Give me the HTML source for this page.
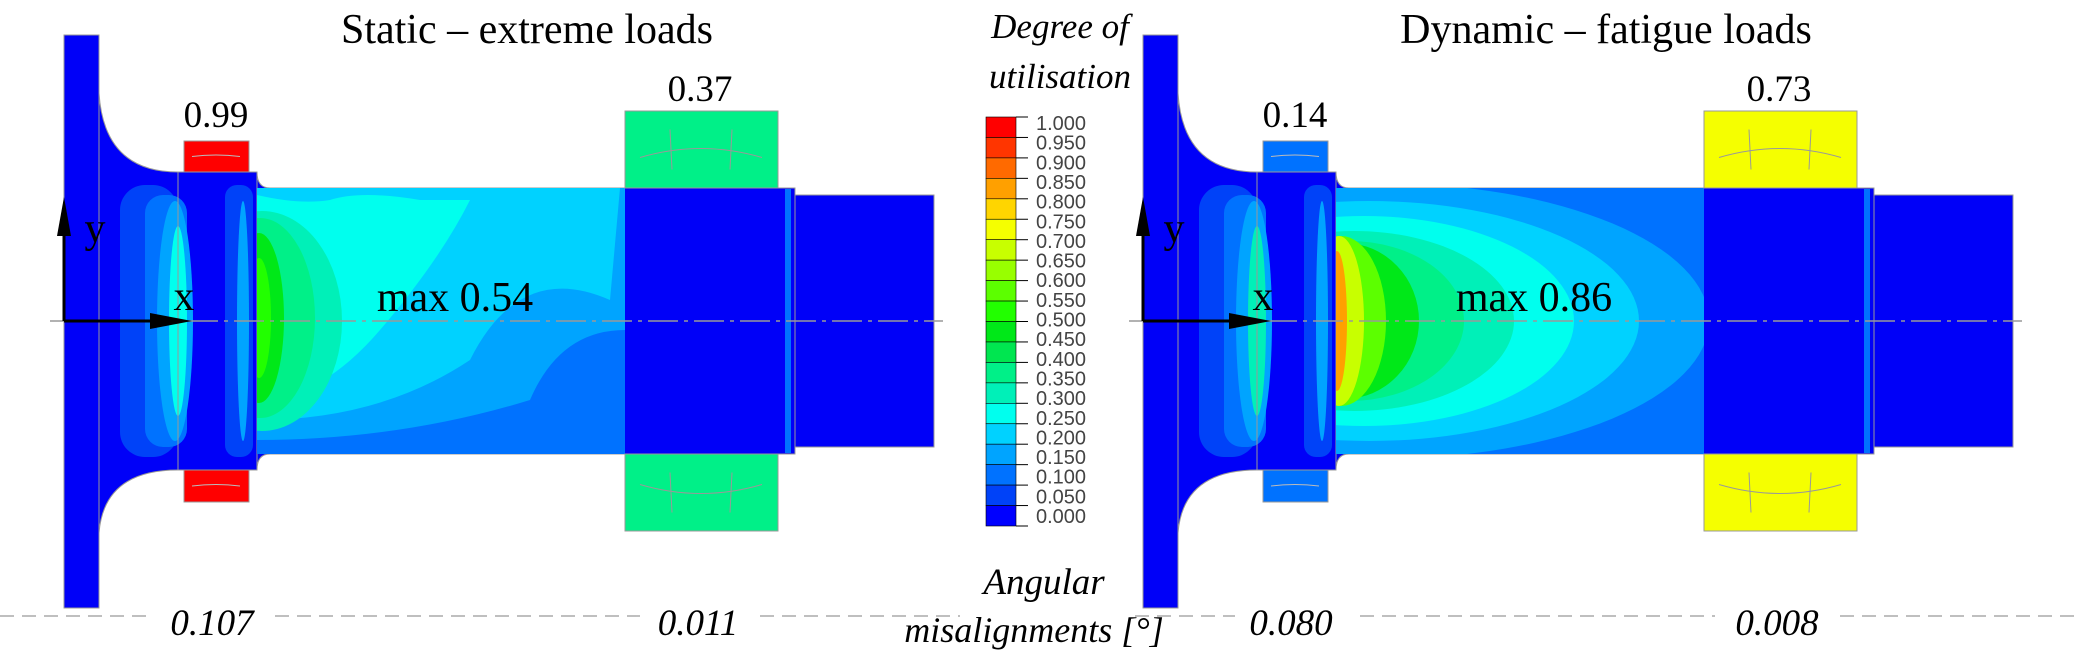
<!DOCTYPE html>
<html><head><meta charset="utf-8"><style>
body{margin:0;background:#fff;}
svg{display:block;font-family:"Liberation Serif",serif;}
</style></head><body>
<svg id="fig" width="2078" height="652" viewBox="0 0 2078 652">
<g id="panels"></g>
<g id="cbar"></g>
<text x="1060" y="38" font-size="35" font-style="italic" text-anchor="middle">Degree of</text>
<text x="1060" y="88" font-size="35" font-style="italic" text-anchor="middle">utilisation</text>
<text x="1044" y="594" font-size="37" font-style="italic" text-anchor="middle">Angular</text>
<text x="1034" y="642" font-size="36" font-style="italic" text-anchor="middle">misalignments [°]</text>
</svg>
<script>
const cbTicks=["1.000","0.950","0.900","0.850","0.800","0.750","0.700","0.650","0.600","0.550","0.500","0.450","0.400","0.350","0.300","0.250","0.200","0.150","0.100","0.050","0.000"];
const cbColors=["#ff0000","#ff3500","#ff6a00","#ffa000","#ffd500","#f5ff00","#c8ff00","#98ff00","#5cff00","#22ff00","#00e818","#00e650","#00f088","#00f0b8","#00ffee","#00d2ff","#00a4ff","#0072ff","#0042f8","#0000ff"];
const panelTitles=["Static – extreme loads","Dynamic – fatigue loads"];
const bearing1=[0.99,0.14];
const bearing2=[0.37,0.73];
const maxVals=["max 0.54","max 0.86"];
const misalign=[["0.107","0.011"],["0.080","0.008"]];
const NS="http://www.w3.org/2000/svg";
function mk(tag,attrs,parent){const e=document.createElementNS(NS,tag);for(const k in attrs)e.setAttribute(k,attrs[k]);parent.appendChild(e);return e;}
function colorOf(v){let i=Math.min(19,Math.max(0,Math.floor((1-v)/0.05)));return cbColors[i];}
const cb=document.getElementById('cbar');
const cbTop=117,cbBot=526,cbX=986,cbW=30;
const segH=(cbBot-cbTop)/cbColors.length;
cbColors.forEach((c,i)=>{const r=mk('rect',{x:cbX,y:cbTop+i*segH,width:cbW,height:segH,fill:c,stroke:'#000','stroke-width':0.6},cb);

});
cbTicks.forEach((t,i)=>{const y=cbTop+i*segH;
mk('line',{x1:cbX+cbW,x2:cbX+cbW+12,y1:y,y2:y,stroke:'#000','stroke-width':1},cb);
const tx=mk('text',{x:1036,y:123+i*(516-123)/20+7,'font-size':20,'font-family':'Liberation Sans, sans-serif',fill:'#444'},cb);
tx.textContent=t;

});
const svg=document.getElementById('fig');
[[0,150],[275,640],[760,960],[1135,1235],[1360,1715],[1840,2078]].forEach(s=>{const l=mk('line',{x1:s[0],x2:s[1],y1:616,y2:616,stroke:'#aaa','stroke-width':1.5,'stroke-dasharray':'14 8'},svg);

});
const panels=document.getElementById('panels');
function panel(p){
 const dx=p*1079;
 const g=mk('g',{transform:`translate(${dx},0)`},panels);
 
 
 const cid='clip'+p;
 const defs=mk('defs',{},g);
 const cp=mk('clipPath',{id:cid},defs);
 mk('rect',{x:257,y:188,width:368,height:266},cp);
 mk('rect',{x:64,y:35,width:35,height:573,fill:'#0000f8',stroke:'#999','stroke-width':1},g);
 mk('path',{d:'M99 93 Q104 172 178 172 L257 172 L257 470 L178 470 Q104 470 99 533 Z',fill:'#0000f8',stroke:'#999','stroke-width':1},g);
 const seatLight=p?0.3:0.27;
 mk('rect',{x:120,y:185,width:58,height:272,rx:25,fill:colorOf(0.07)},g);
 mk('rect',{x:145,y:195,width:42,height:252,rx:18,fill:colorOf(0.12)},g);
 mk('ellipse',{cx:175,cy:321,rx:18,ry:120,fill:colorOf(0.2)},g);
 mk('ellipse',{cx:178,cy:321,rx:9,ry:95,fill:colorOf(seatLight)},g);
 mk('rect',{x:225,y:185,width:28,height:272,rx:12,fill:colorOf(0.08)},g);
 mk('ellipse',{cx:243,cy:321,rx:6,ry:120,fill:colorOf(0.18)},g);
 mk('line',{x1:178,x2:178,y1:172,y2:470,stroke:'#999','stroke-width':1},g);
 mk('line',{x1:99,x2:99,y1:35,y2:608,stroke:'#999','stroke-width':1},g);
 mk('path',{d:'M257 172 Q257 188 270 188 L795 188 L795 454 L270 454 Q257 454 257 470 Z',fill:'#0000f8',stroke:'#999','stroke-width':1},g);
 const c=mk('g',{'clip-path':`url(#${cid})`},g);
 if(p===0){
  mk('rect',{x:257,y:188,width:368,height:266,fill:colorOf(0.12)},c);
  mk('path',{d:'M257 188 L625 188 L625 330 Q560 330 530 400 Q400 440 257 440 Z',fill:colorOf(0.17)},c);
  mk('path',{d:'M257 188 L620 188 L610 300 Q520 260 470 360 Q380 420 257 420 Z',fill:colorOf(0.22)},c);
  mk('path',{d:'M257 195 Q300 205 330 200 Q360 190 420 200 L470 200 Q440 260 380 330 Q320 400 257 400 Z',fill:colorOf(0.27)},c);
  mk('ellipse',{cx:262,cy:321,rx:80,ry:110,fill:colorOf(0.32)},c);
  mk('ellipse',{cx:260,cy:318,rx:55,ry:100,fill:colorOf(0.37)},c);
  mk('ellipse',{cx:259,cy:318,rx:25,ry:85,fill:colorOf(0.47)},c);
  mk('ellipse',{cx:259,cy:318,rx:12,ry:60,fill:colorOf(0.52)},c);
 }else{
  mk('rect',{x:257,y:188,width:368,height:266,fill:colorOf(0.12)},c);
  mk('ellipse',{cx:300,cy:321,rx:330,ry:138,fill:colorOf(0.17)},c);
  mk('ellipse',{cx:290,cy:321,rx:270,ry:120,fill:colorOf(0.22)},c);
  mk('ellipse',{cx:285,cy:321,rx:210,ry:105,fill:colorOf(0.27)},c);
  mk('ellipse',{cx:275,cy:321,rx:160,ry:90,fill:colorOf(0.32)},c);
  mk('ellipse',{cx:270,cy:321,rx:115,ry:80,fill:colorOf(0.37)},c);
  mk('ellipse',{cx:265,cy:321,rx:75,ry:78,fill:colorOf(0.47)},c);
  mk('ellipse',{cx:262,cy:321,rx:45,ry:85,fill:colorOf(0.57)},c);
  mk('ellipse',{cx:260,cy:321,rx:25,ry:85,fill:colorOf(0.67)},c);
  mk('ellipse',{cx:258,cy:321,rx:10,ry:70,fill:colorOf(0.82)},c);
 }
 mk('rect',{x:795,y:195,width:139,height:252,fill:'#0000f8',stroke:'#999','stroke-width':1},g);
 mk('rect',{x:785,y:189,width:6,height:264,fill:colorOf(0.12)},g);
 const b1c=colorOf(bearing1[p]), b2c=colorOf(bearing2[p]);
 [[141,172],[470,502]].forEach(([y1,y2])=>{const r=mk('rect',{x:184,y:y1,width:65,height:y2-y1,fill:b1c,stroke:'#999','stroke-width':1},g);
  
  
  mk('path',{d:`M192 ${(y1+y2)/2} Q216 ${(y1+y2)/2-3} 240 ${(y1+y2)/2}`,stroke:'#bbb',fill:'none','stroke-width':1},g);});
 [[111,188],[454,531]].forEach(([y1,y2],k)=>{const r=mk('rect',{x:625,y:y1,width:153,height:y2-y1,fill:b2c,stroke:'#999','stroke-width':1},g);
  
  
  const m=(y1+y2)/2, s=k?-1:1;
  mk('path',{d:`M640 ${m+8*s} Q701 ${m-10*s} 762 ${m+8*s}`,stroke:'#999',fill:'none','stroke-width':1},g);
  mk('line',{x1:670,y1:m-20,x2:672,y2:m+20,stroke:'#999','stroke-width':1},g);
  mk('line',{x1:732,y1:m-20,x2:730,y2:m+20,stroke:'#999','stroke-width':1},g);});
 mk('line',{x1:50,x2:943,y1:321,y2:321,stroke:'#999','stroke-width':1.5,'stroke-dasharray':'30 6 4 6'},g);
 mk('line',{x1:64,y1:321,x2:64,y2:222,stroke:'#000','stroke-width':3},g);
 mk('path',{d:'M57 236 L64 197 L71 236 Z',fill:'#000'},g);
 mk('line',{x1:64,y1:321,x2:160,y2:321,stroke:'#000','stroke-width':3},g);
 mk('path',{d:'M150 313 L192 321 L150 329 Z',fill:'#000'},g);
 const T=(x,y,s,txt,name,it)=>{const t=mk('text',{x:x,y:y,'font-size':s,'text-anchor':'middle','font-style':it?'italic':'normal'},g);t.textContent=txt;
  
  return t;};
 T(95,242,42,'y','y-axis-label');
 T(184,310,42,'x','x-axis-label');
 T(527,43,42,panelTitles[p],'panel-title');
 T(216,127,37,bearing1[p].toFixed(2),'bearing-1-value');
 T(700,101,37,bearing2[p].toFixed(2),'bearing-2-value');
 T(455,311,42,maxVals[p],'max-value-label');
 T(212,635,37,misalign[p][0],'misalignment-1',true);
 T(698,635,37,misalign[p][1],'misalignment-2',true);
}
panel(0);panel(1);
</script>
</body></html>
